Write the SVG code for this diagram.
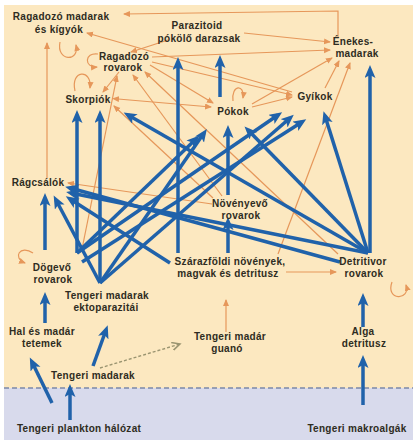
<svg xmlns="http://www.w3.org/2000/svg" width="416" height="440" viewBox="0 0 416 440">
  <defs>
    <marker id="bh" markerUnits="userSpaceOnUse" markerWidth="14" markerHeight="12" refX="8" refY="5.5" orient="auto">
      <path d="M0,0 L13,5.5 L0,11 L3,5.5 z" fill="#2062aa"/>
    </marker>
    <marker id="oh" markerUnits="userSpaceOnUse" markerWidth="8" markerHeight="7" refX="6" refY="3" orient="auto">
      <path d="M0,0 L7,3 L0,6 z" fill="#e6975a"/>
    </marker>
    <marker id="ohs" markerUnits="userSpaceOnUse" markerWidth="8" markerHeight="7" refX="1" refY="3" orient="auto-start-reverse">
      <path d="M0,0 L7,3 L0,6 z" fill="#e6975a"/>
    </marker>
    <marker id="gh" markerUnits="userSpaceOnUse" markerWidth="10" markerHeight="10" refX="8" refY="4" orient="auto">
      <path d="M0,0 L8,4 L0,8" fill="none" stroke="#9a9470" stroke-width="1.5"/>
    </marker>
  </defs>
  <style>
    .t { font-family: "Liberation Sans", Arial, sans-serif; font-weight: bold; font-size: 10px; letter-spacing: 0.3px; fill: #2e2c22; text-anchor: middle; }
    .b { fill: none; stroke: #2062aa; stroke-width: 3.5; marker-end: url(#bh); }
    .o { fill: none; stroke: #e6975a; stroke-width: 1.2; marker-end: url(#oh); }
    .ob { fill: none; stroke: #e6975a; stroke-width: 1.2; marker-start: url(#ohs); marker-end: url(#oh); }
  </style>

  <!-- land and sea backgrounds -->
  <rect x="0" y="0" width="416" height="440" fill="#ffffff"/>
  <rect x="4" y="5" width="409" height="383" fill="#fce8c0"/>
  <rect x="4" y="388" width="409" height="52" fill="#d8daec"/>
  <line x1="4" y1="388" x2="413" y2="388" stroke="#7b88a8" stroke-width="1.6" stroke-dasharray="5 3"/>

  <g id="connectors">
    <!-- thin orange feeding links -->
    <path class="o" d="M338,38 L338,11 L124,14"/>
    <path class="o" d="M244,33 L330,42"/>
    <path class="o" d="M152,57 L330,50"/>
    <path class="o" d="M292,92 L87,33"/>
    <path class="o" d="M252,104 L332,58"/>
    <path class="o" d="M325,88 L339,61"/>
    <path class="o" d="M278,254 L350,63"/>
    <path class="o" d="M47,178 L47,43"/>
    <path class="o" d="M150,65 L213,103"/>
    <path class="ob" d="M118,99 L211,107"/>
    <path class="o" d="M252,107 L292,97"/>
    <path class="o" d="M152,62 L292,95"/>
    <path class="o" d="M212,204 L68,183"/>
    <path class="o" d="M213,198 L114,106"/>
    <path class="o" d="M222,196 L133,75"/>
    <path class="o" d="M338,254 L145,72"/>
    <path class="o" d="M82,249 L117,76"/>
    <path class="o" d="M119,72 L103,92"/>
    <path class="o" d="M168,40 L131,52"/>
    <path class="o" d="M286,272 L336,272"/>
    <path class="o" d="M226,332 L226,300"/>
    <!-- self loops -->
    <path class="o" d="M60,42 C56,62 80,62 76,45"/>
    <path class="o" d="M98,54 C84,52 84,68 97,67"/>
    <path class="o" d="M75,91 C70,70 92,68 90,88"/>
    <path class="o" d="M233,101 C231,84 245,84 243,98"/>
    <path class="o" d="M33,253 C20,244 12,258 25,263"/>
    <path class="o" d="M392,282 C385,301 411,301 406,285"/>
    <!-- seabirds to guano (dashed) -->
    <path d="M100,368 L180,344" fill="none" stroke="#9a9470" stroke-width="1.4" stroke-dasharray="3 2" marker-end="url(#gh)"/>

    <!-- thick blue marine-derived links -->
    <path class="b" d="M70,420 L70,389"/>
    <path class="b" d="M52,403 L32,362"/>
    <path class="b" d="M93,366 L106,330"/>
    <path class="b" d="M45,323 L45,297"/>
    <path class="b" d="M45,250 L45,198"/>
    <path class="b" d="M363,405 L363,360"/>
    <path class="b" d="M363,327 L363,298"/>
    <path class="b" d="M370,253 L370,70"/>
    <path class="b" d="M368,253 L325,116"/>
    <path class="b" d="M368,253 L248,130"/>
    <path class="b" d="M368,253 L128,115"/>
    <path class="b" d="M368,253 L71,193"/>
    <path class="b" d="M340,262 L70,188"/>
    <path class="b" d="M170,263 L70,199"/>
    <path class="b" d="M100,283 L56,200"/>
    <path class="b" d="M77,253 L77,115"/>
    <path class="b" d="M100,283 L100,115"/>
    <path class="b" d="M100,283 L204,133"/>
    <path class="b" d="M77,253 L196,139"/>
    <path class="b" d="M77,253 L278,115"/>
    <path class="b" d="M100,283 L290,118"/>
    <path class="b" d="M82,262 L302,122"/>
    <path class="b" d="M228,253 L228,222"/>
    <path class="b" d="M228,195 L228,130"/>
    <path class="b" d="M178,253 L178,62"/>
    <path class="b" d="M220,97 L220,60"/>
  </g>

  <g id="ragadozo-madarak"><text class="t" x="61" y="20">Ragadozó madarak</text><text class="t" x="59" y="33">és kígyók</text></g>
  <g id="parazitoid"><text class="t" x="197" y="29">Parazitoid</text><text class="t" x="199" y="42">pókölő darazsak</text></g>
  <g id="enekesmadarak"><text class="t" x="353" y="45">Énekes-</text><text class="t" x="357" y="57">madarak</text></g>
  <g id="ragadozo-rovarok"><text class="t" x="124" y="60">Ragadozó</text><text class="t" x="123" y="71">rovarok</text></g>
  <g id="skorpiok"><text class="t" x="88" y="103">Skorpiók</text></g>
  <g id="pokok"><text class="t" x="233" y="115">Pókok</text></g>
  <g id="gyikok"><text class="t" x="315" y="100">Gyíkok</text></g>
  <g id="ragcsalok"><text class="t" x="38" y="186">Rágcsálók</text></g>
  <g id="novenyevo"><text class="t" x="240" y="207">Növényevő</text><text class="t" x="241" y="219">rovarok</text></g>
  <g id="szarazfoldi"><text class="t" x="230" y="265">Szárazföldi növények,</text><text class="t" x="228" y="277">magvak és detritusz</text></g>
  <g id="detritivor"><text class="t" x="363" y="265">Detritivor</text><text class="t" x="364" y="277">rovarok</text></g>
  <g id="dogevo"><text class="t" x="52" y="271">Dögevő</text><text class="t" x="53" y="283">rovarok</text></g>
  <g id="ektoparazitak"><text class="t" x="107" y="299">Tengeri madarak</text><text class="t" x="106" y="311">ektoparazitái</text></g>
  <g id="tetemek"><text class="t" x="42" y="335">Hal és madár</text><text class="t" x="42" y="347">tetemek</text></g>
  <g id="guano"><text class="t" x="230" y="340">Tengeri madár</text><text class="t" x="227" y="352">guanó</text></g>
  <g id="alga-detritusz"><text class="t" x="363" y="335">Alga</text><text class="t" x="364" y="347">detritusz</text></g>
  <g id="tengeri-madarak"><text class="t" x="93" y="379">Tengeri madarak</text></g>
  <g id="plankton"><text class="t" x="79" y="432">Tengeri plankton hálózat</text></g>
  <g id="makroalgak"><text class="t" x="357" y="432">Tengeri makroalgák</text></g>
</svg>
